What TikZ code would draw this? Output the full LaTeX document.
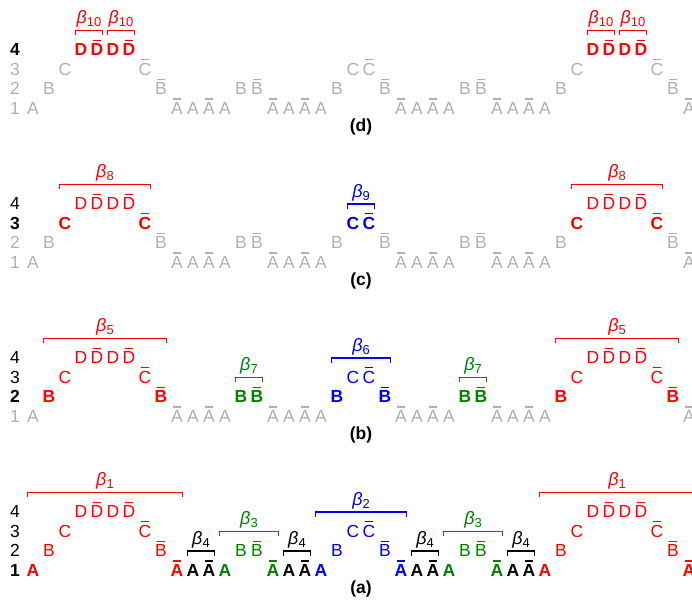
\documentclass[tikz,border=0pt]{standalone}
\usepackage{fontspec}
\setmainfont{Liberation Sans}
\usetikzlibrary{calc}

\definecolor{cR}{RGB}{255,0,0}
\definecolor{cG}{RGB}{0,128,0}
\definecolor{cB}{RGB}{0,0,255}
\definecolor{cK}{RGB}{0,0,0}
\definecolor{cF}{RGB}{176,176,176}

\newcommand{\ovl}[1]{\setbox0\hbox{#1}\rlap{\hbox to\wd0{\hss\smash{\rule[\dimexpr\ht0+2.6pt\relax]{0.7\wd0}{1.4pt}}\hss}}\box0}
\newcommand{\bet}[1]{\textit{β}\raisebox{-3pt}{\fontsize{13}{13}\selectfont #1}}
\newcommand{\grpbrk}[5]{\draw[brk,#4] ($(#1.center |- #3.center)+(-5.5,14.5)$) -- ++(0,4.5)
  -- node[blabel] {\bet{#5}} ($(#2.center |- #3.center)+(5.5,19)$) -- ++(0,-4.5);}

\tikzset{
  lett/.style={inner sep=0pt, text height=12.4pt, text depth=0pt, font=\fontsize{17.5}{17.5}\selectfont},
  lvl/.code args={#1/#2/#3}{\ifnum#1<#2\relax\tikzset{text=cF}\else
    \ifnum#1=#2\relax\tikzset{text=#3, font=\fontsize{17.5}{17.5}\selectfont\bfseries}\else\tikzset{text=#3}\fi\fi},
  brk/.style={line width=1.3pt},
  blabel/.style={anchor=base, yshift=7pt, inner sep=0pt, font=\fontsize{18}{18}\selectfont},
  plabel/.style={inner sep=0pt, font=\fontsize{17.5}{17.5}\selectfont\bfseries}
}

\begin{document}
\begin{tikzpicture}[x=1pt,y=1pt]
\useasboundingbox (0,0) rectangle (692,606);
\clip (0,0) rectangle (692,606);
\foreach \pp/\pn in {1/a,2/b,3/c,4/d}{
  \foreach \rw in {1,...,4}
    \node[lett, lvl=\rw/\pp/cK] (\pn r\rw) at (15,{36+154*(\pp-1)+19.5*(\rw-1)}) {\rw};
  \foreach \ltr/\rw/\br/\cl [count=\cc from 0] in {A/1/0/cR, B/2/0/cR, C/3/0/cR, D/4/0/cR, D/4/1/cR,
      D/4/0/cR, D/4/1/cR, C/3/1/cR, B/2/1/cR, A/1/1/cR,
      A/1/0/cK, A/1/1/cK,
      A/1/0/cG, B/2/0/cG, B/2/1/cG, A/1/1/cG,
      A/1/0/cK, A/1/1/cK,
      A/1/0/cB, B/2/0/cB, C/3/0/cB, C/3/1/cB, B/2/1/cB, A/1/1/cB,
      A/1/0/cK, A/1/1/cK,
      A/1/0/cG, B/2/0/cG, B/2/1/cG, A/1/1/cG,
      A/1/0/cK, A/1/1/cK,
      A/1/0/cR, B/2/0/cR, C/3/0/cR, D/4/0/cR, D/4/1/cR,
      D/4/0/cR, D/4/1/cR, C/3/1/cR, B/2/1/cR, A/1/1/cR}
    \node[lett, lvl=\rw/\pp/\cl] (\pn\cc) at ({33+16*\cc},{36+154*(\pp-1)+19.5*(\rw-1)})
      {\ifnum\br=1 \ovl{\ltr}\else\ltr\fi};
  \node[plabel] (\pn lab) at (361,{17+154*(\pp-1)}) {(\pn)};
}

% level 1
\grpbrk{a0}{a9}{a3}{cR}{1}
\grpbrk{a10}{a11}{a10}{cK}{4}
\grpbrk{a12}{a15}{a13}{cG}{3}
\grpbrk{a16}{a17}{a16}{cK}{4}
\grpbrk{a18}{a23}{a20}{cB}{2}
\grpbrk{a24}{a25}{a24}{cK}{4}
\grpbrk{a26}{a29}{a27}{cG}{3}
\grpbrk{a30}{a31}{a30}{cK}{4}
\grpbrk{a32}{a41}{a35}{cR}{1}
% level 2
\grpbrk{b1}{b8}{b3}{cR}{5}
\grpbrk{b13}{b14}{b13}{cG}{7}
\grpbrk{b19}{b22}{b20}{cB}{6}
\grpbrk{b27}{b28}{b27}{cG}{7}
\grpbrk{b33}{b40}{b35}{cR}{5}
% level 3
\grpbrk{c2}{c7}{c3}{cR}{8}
\grpbrk{c20}{c21}{c20}{cB}{9}
\grpbrk{c34}{c39}{c35}{cR}{8}
% level 4
\grpbrk{d3}{d4}{d3}{cR}{10}
\grpbrk{d5}{d6}{d5}{cR}{10}
\grpbrk{d35}{d36}{d35}{cR}{10}
\grpbrk{d37}{d38}{d37}{cR}{10}
\end{tikzpicture}
\end{document}
